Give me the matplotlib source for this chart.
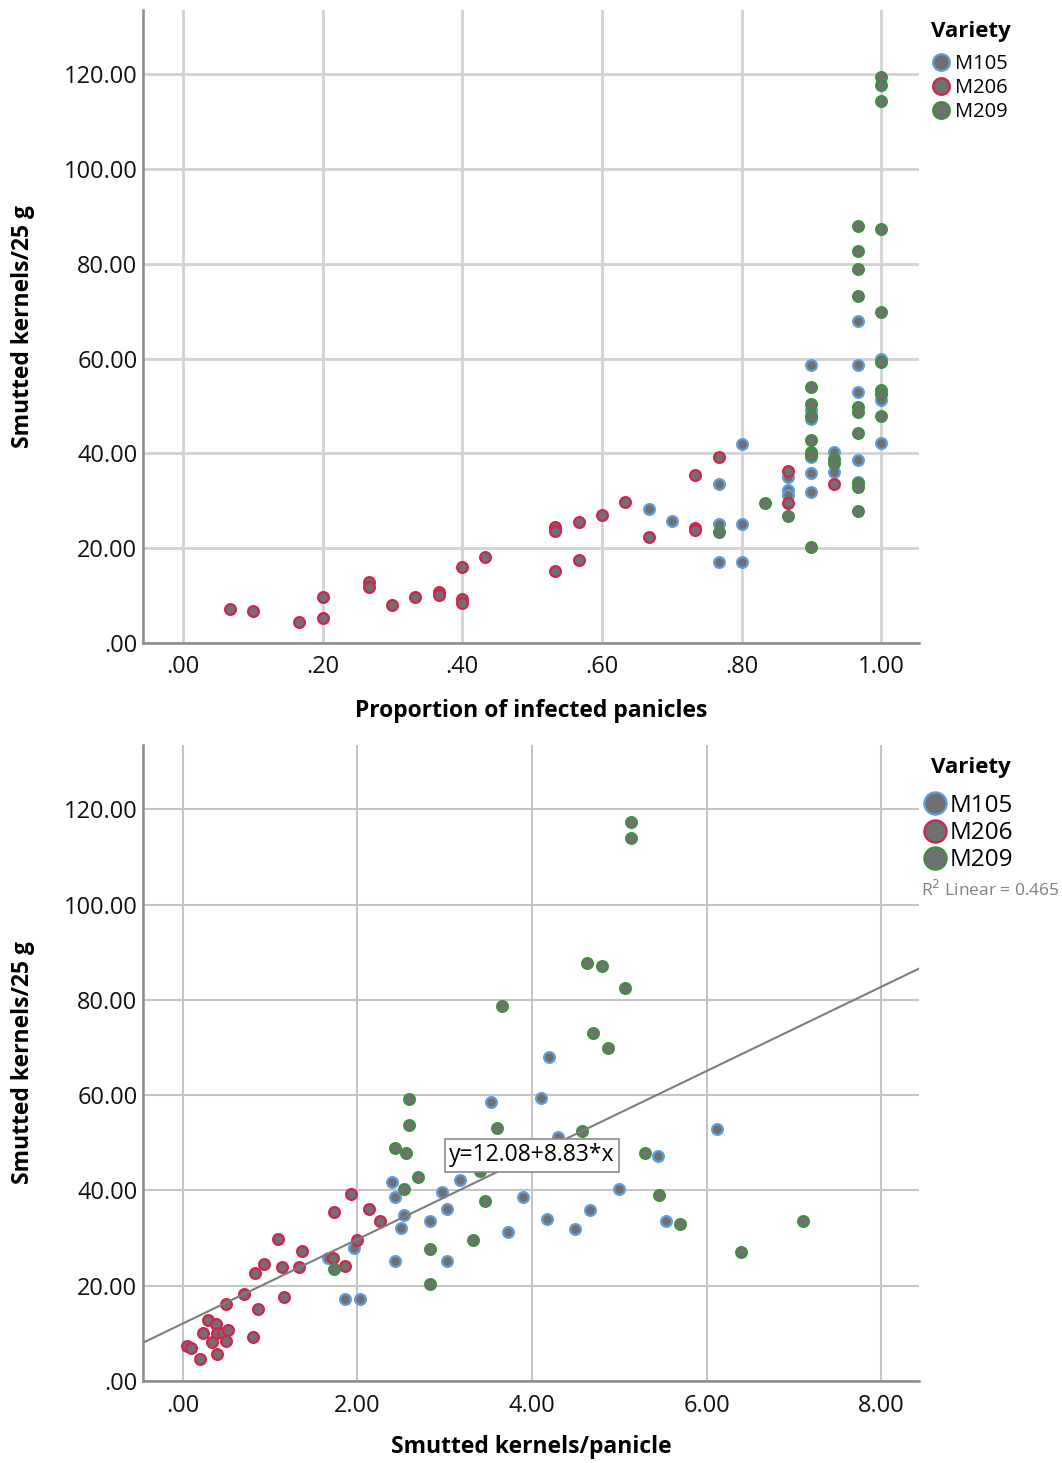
import matplotlib
matplotlib.use("Agg")
import matplotlib.pyplot as plt
from matplotlib.ticker import FuncFormatter, MultipleLocator
from matplotlib.lines import Line2D

plt.rcParams["font.family"] = ["Open Sans", "DejaVu Sans"]

# ---- top panel: proportion of infected panicles vs smutted kernels/25 g ----
top_m105_x = [0.667, 0.700, 0.767, 0.767, 0.767, 0.800, 0.800, 0.800, 0.867, 0.867, 0.867,
              0.900, 0.900, 0.900, 0.900, 0.900, 0.900, 0.933, 0.933,
              0.967, 0.967, 0.967, 0.967, 0.967, 1.000, 1.000, 1.000]
top_m105_y = [28.2, 25.8, 33.5, 25.2, 17.1, 41.9, 25.2, 17.1, 35.1, 32.3, 31.2,
              58.6, 49.1, 47.2, 39.3, 35.8, 31.8, 40.3, 36.1,
              67.9, 58.6, 52.9, 38.6, 34.0, 60.0, 51.2, 42.2]

top_m206_x = [0.067, 0.100, 0.167, 0.200, 0.200, 0.267, 0.267, 0.300, 0.333, 0.367, 0.367,
              0.400, 0.400, 0.400, 0.433, 0.533, 0.533, 0.533, 0.567, 0.567, 0.600,
              0.633, 0.667, 0.733, 0.733, 0.733, 0.767, 0.867, 0.867, 0.933]
top_m206_y = [7.1, 6.8, 4.4, 9.8, 5.3, 12.8, 11.9, 8.1, 9.8, 10.8, 10.1,
              9.2, 8.4, 16.1, 18.1, 15.1, 24.4, 23.6, 17.4, 25.6, 27.0,
              29.8, 22.4, 35.5, 24.2, 23.8, 39.2, 36.3, 29.5, 33.5]

top_m209_x = [0.767, 0.833, 0.867, 0.900, 0.900, 0.900, 0.900, 0.900, 0.900, 0.900,
              0.933, 0.933, 0.967, 0.967, 0.967, 0.967, 0.967, 0.967, 0.967, 0.967,
              0.967, 0.967, 1.000, 1.000, 1.000, 1.000, 1.000, 1.000, 1.000, 1.000, 1.000]
top_m209_y = [23.5, 29.5, 26.8, 53.9, 50.5, 47.9, 42.8, 40.3, 39.6, 20.2,
              38.9, 38.0, 88.0, 82.6, 78.9, 73.2, 49.8, 48.8, 44.2, 33.7,
              32.8, 27.8, 119.4, 117.7, 114.4, 87.3, 69.9, 59.3, 53.4, 52.5, 47.9]

# ---- bottom panel: smutted kernels/panicle vs smutted kernels/25 g ----
bot_m105_x = [4.19, 4.10, 3.53, 4.30, 5.44, 6.12, 2.40, 2.43, 2.97, 3.17, 3.90, 5.00,
              3.03, 2.53, 2.50, 2.83, 4.17, 4.67, 4.49, 3.73, 5.54, 2.43, 3.03,
              1.96, 1.66, 1.86, 2.03]
bot_m105_y = [68.0, 59.5, 58.5, 51.3, 47.2, 52.9, 41.8, 38.6, 39.6, 42.2, 38.6, 40.2,
              36.1, 34.9, 32.2, 33.5, 33.9, 35.9, 31.9, 31.2, 33.5, 25.2, 25.2,
              28.0, 25.9, 17.2, 17.2]

bot_m206_x = [1.92, 1.73, 2.13, 2.26, 1.99, 1.72, 1.86, 1.09, 1.36, 0.93, 0.83, 1.13,
              1.33, 0.70, 1.16, 0.49, 0.86, 0.29, 0.38, 0.23, 0.39, 0.46, 0.52,
              0.33, 0.49, 0.80, 0.05, 0.09, 0.39, 0.20]
bot_m206_y = [39.2, 35.5, 36.1, 33.6, 29.6, 25.9, 24.2, 29.9, 27.2, 24.5, 22.6, 23.9,
              23.9, 18.3, 17.6, 16.2, 15.2, 12.9, 12.0, 10.0, 10.1, 10.0, 10.8,
              8.2, 8.5, 9.3, 7.3, 6.9, 5.7, 4.6]

bot_m209_x = [5.13, 5.13, 4.63, 4.80, 5.07, 3.66, 4.70, 4.87, 2.59, 2.59, 3.60, 2.43,
              2.56, 4.57, 5.30, 2.69, 3.40, 2.53, 3.46, 5.46, 5.70, 3.32, 2.83,
              1.73, 2.83, 6.40, 7.10]
bot_m209_y = [117.3, 114.0, 87.7, 87.1, 82.4, 78.7, 73.1, 69.8, 59.1, 53.8, 53.1, 48.9,
              47.9, 52.5, 47.8, 42.9, 44.1, 40.2, 37.8, 39.0, 32.9, 29.5, 27.8,
              23.6, 20.3, 27.0, 33.5]

varieties = ["M105", "M206", "M209"]
edge_colors = ["#5f9ddd", "#d3234c", "#3f8f3f"]
fill_color = "#707070"

fit_intercept = 12.08
fit_slope = 8.83
r2_linear = 0.465

W, H = 1062, 1463


def spss_fmt(v, pos=None):
    s = f"{v:.2f}"
    if s.startswith("0."):
        s = s[1:]
    if s == "-0.00":
        s = ".00"
    return s


def style_axes(ax, grid_color, grid_lw):
    ax.set_axisbelow(True)
    ax.grid(True, color=grid_color, linewidth=grid_lw)
    for side in ("top", "right"):
        ax.spines[side].set_visible(False)
    for side in ("left", "bottom"):
        ax.spines[side].set_color("#8a8a8a")
        ax.spines[side].set_linewidth(1.8)
    ax.tick_params(length=0, labelsize=17, labelcolor="#111111")
    ax.tick_params(axis="y", pad=4)
    ax.tick_params(axis="x", pad=9)
    ax.xaxis.set_major_formatter(FuncFormatter(spss_fmt))
    ax.yaxis.set_major_formatter(FuncFormatter(spss_fmt))
    ax.yaxis.set_major_locator(MultipleLocator(20))
    ax.set_ylim(0, 133.5)
    ax.set_ylabel("Smutted kernels/25 g", fontsize=16.5, fontweight="bold")
    ax.yaxis.set_label_coords(-0.139, 0.5)


def draw_points(ax, xs, ys, size):
    for x, y, c in zip(xs, ys, edge_colors):
        ax.scatter(x, y, s=size, facecolor=fill_color, edgecolor=c, linewidth=1.6, zorder=3)


def legend_handles(msize):
    return [Line2D([], [], marker="o", linestyle="none", markersize=msize,
                   markerfacecolor=fill_color, markeredgecolor=c, markeredgewidth=1.6,
                   label=v) for v, c in zip(varieties, edge_colors)]


fig = plt.figure(figsize=(W / 100, H / 100), dpi=100)

# top panel
ax1 = fig.add_axes([143 / W, 1 - 643 / H, 776 / W, 633 / H])
style_axes(ax1, "#d2d2d2", 2.0)
draw_points(ax1, [top_m105_x, top_m206_x, top_m209_x],
            [top_m105_y, top_m206_y, top_m209_y], 60)
ax1.set_xlim(-0.057, 1.054)
ax1.xaxis.set_major_locator(MultipleLocator(0.2))
ax1.set_xlabel("Proportion of infected panicles", fontsize=16.5, fontweight="bold")
ax1.xaxis.set_label_coords(0.5, -0.088)

fig.text(931 / W, 1 - 31 / H, "Variety", fontsize=16, fontweight="bold",
         ha="left", va="center")
fig.legend(handles=legend_handles(12), loc="upper left",
           bbox_to_anchor=(933 / W, 1 - 54 / H), frameon=False, fontsize=14.5,
           handlelength=0.8, handletextpad=0.3, labelspacing=0.2,
           borderpad=0, borderaxespad=0)

# bottom panel
ax2 = fig.add_axes([143 / W, 1 - 1381 / H, 776 / W, 636 / H])
style_axes(ax2, "#c4c4c4", 1.5)
draw_points(ax2, [bot_m105_x, bot_m206_x, bot_m209_x],
            [bot_m105_y, bot_m206_y, bot_m209_y], 60)
ax2.set_xlim(-0.458, 8.435)
ax2.xaxis.set_major_locator(MultipleLocator(2))
ax2.set_xlabel("Smutted kernels/panicle", fontsize=16.5, fontweight="bold")
ax2.xaxis.set_label_coords(0.5, -0.085)

x0, x1 = ax2.get_xlim()
ax2.plot([x0, x1], [fit_intercept + fit_slope * x0, fit_intercept + fit_slope * x1],
         color="#7d7d7d", linewidth=1.5, zorder=4)
ax2.text(4.0, 47.4, f"y={fit_intercept:.2f}+{fit_slope:.2f}*x", fontsize=16.5,
         ha="center", va="center", zorder=5,
         bbox=dict(boxstyle="square,pad=0.2", facecolor="white", edgecolor="#8a8a8a",
                   linewidth=1.2))

fig.text(931 / W, 1 - 768 / H, "Variety", fontsize=16, fontweight="bold",
         ha="left", va="center")
fig.legend(handles=legend_handles(16), loc="upper left",
           bbox_to_anchor=(924 / W, 1 - 794 / H), frameon=False, fontsize=17.5,
           handlelength=0.9, handletextpad=0.17, labelspacing=0.13,
           borderpad=0, borderaxespad=0)
fig.text(921 / W, 1 - 890 / H, f"R$^2$ Linear = {r2_linear:.3f}", fontsize=12.5,
         color="#808080", ha="left", va="center")

fig.savefig("out.png", dpi=100)
